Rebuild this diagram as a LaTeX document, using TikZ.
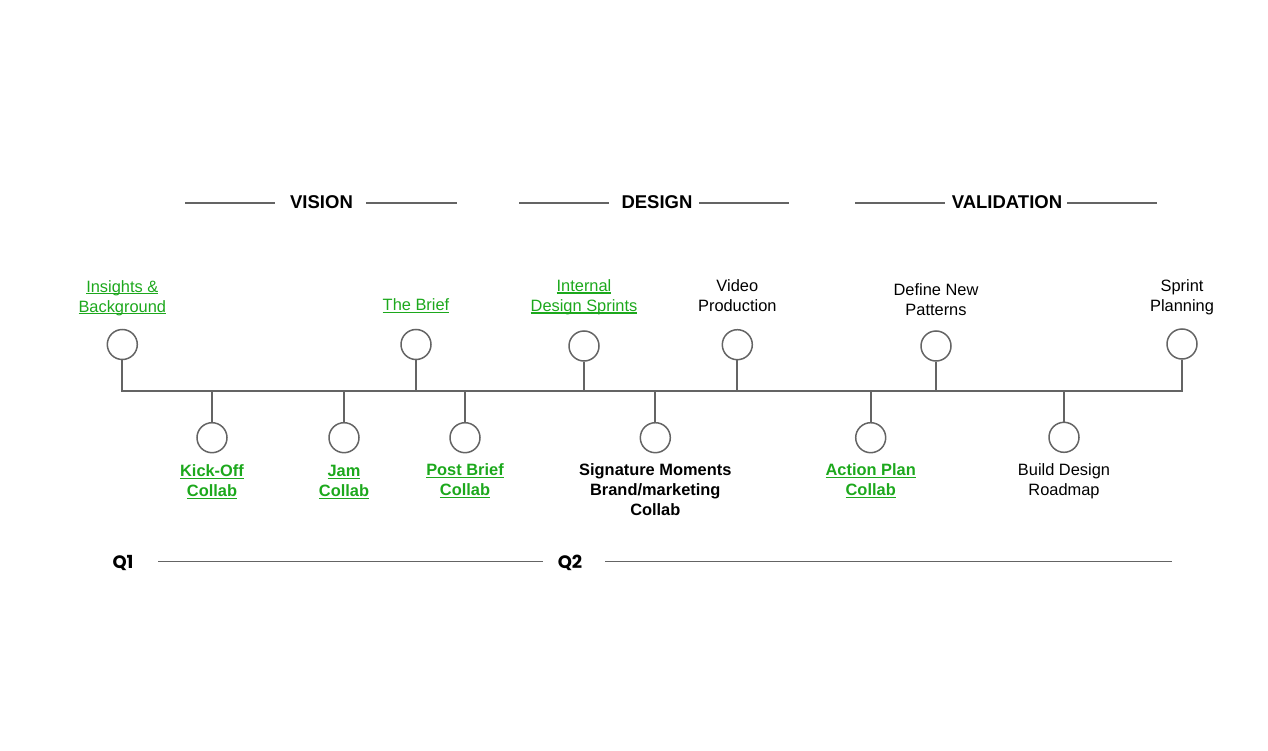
\documentclass[tikz,border=0pt]{standalone}
\usepackage{fontspec}
\setmainfont{Liberation Sans}
\newfontfamily\qfont{Poppins}
\usetikzlibrary{positioning}
\definecolor{linkgreen}{RGB}{28,168,28}
\definecolor{linegray}{RGB}{100,100,100}
\newcommand\ulin[1]{\setbox0\hbox{#1}\rlap{\vrule height -1.1pt depth 2.2pt width \wd0}\box0}
\newcommand\gline[1]{\strut\ulin{#1}}
\newcommand\pline[1]{\strut #1}
\begin{document}
\begin{tikzpicture}[x=1pt,y=-1pt,
  dot/.style={circle,draw=linegray,line width=1.5pt,minimum size=30pt,inner sep=0pt},
  stem/.style={draw=linegray,line width=1.7pt},
  tl/.style={draw=linegray,line width=1.7pt,line join=miter},
  hline/.style={draw=linegray,line width=1.5pt},
  lbl/.style={align=center,inner sep=0pt,font=\fontsize{16.4}{20}\selectfont},
  glbl/.style={lbl,text=linkgreen},
  gblbl/.style={lbl,text=linkgreen,font=\fontsize{16.4}{20}\selectfont\bfseries},
  blbl/.style={lbl,font=\fontsize{16.4}{20}\selectfont\bfseries},
  head/.style={inner sep=0pt,anchor=base,font=\fontsize{18.5}{22}\selectfont\bfseries},
  qlbl/.style={inner sep=0pt,anchor=base,font=\qfont\fontsize{18}{22}\selectfont\bfseries}
]
\useasboundingbox (0,0) rectangle (1268,751);

% header
\node[head] (hvis) at (321.5,209) {VISION};
\node[head] (hdes) at (657,209) {DESIGN};
\node[head] (hval) at (1007,209) {VALIDATION};
\coordinate (hv1) at (185,203); \coordinate (hv2) at (275,203);
\coordinate (hv3) at (366,203); \coordinate (hv4) at (457,203);
\coordinate (hd1) at (519,203); \coordinate (hd2) at (609,203);
\coordinate (hd3) at (699,203); \coordinate (hd4) at (789,203);
\coordinate (ha1) at (855,203); \coordinate (ha2) at (945,203);
\coordinate (ha3) at (1067,203); \coordinate (ha4) at (1157,203);
\draw[hline] (hv1) -- (hv2); \draw[hline] (hv3) -- (hv4);
\draw[hline] (hd1) -- (hd2); \draw[hline] (hd3) -- (hd4);
\draw[hline] (ha1) -- (ha2); \draw[hline] (ha3) -- (ha4);

% timeline
\coordinate (t0) at (122.3,391);
\coordinate (t1) at (1182,391);

% upper circles
\node[dot] (c1) at (122.3,344.5) {};
\node[dot] (c2) at (416,344.5) {};
\node[dot] (c3) at (584,346) {};
\node[dot] (c4) at (737.3,344.7) {};
\node[dot] (c5) at (936,346) {};
\node[dot] (c6) at (1182,344) {};
% lower circles
\node[dot] (d1) at (212,437.7) {};
\node[dot] (d2) at (344,437.7) {};
\node[dot] (d3) at (465,437.7) {};
\node[dot] (d4) at (655.3,437.7) {};
\node[dot] (d5) at (870.7,437.7) {};
\node[dot] (d6) at (1064,437.3) {};

\draw[tl] (c1.south) -- (c1 |- t0) -- (c6 |- t1) -- (c6.south);
\foreach \n in {c2,c3,c4,c5} \draw[stem] (\n.south) -- (\n |- t0);
\foreach \n in {d1,d2,d3,d4,d5,d6} \draw[stem] (\n.north) -- (\n |- t0);

% upper labels
\node[glbl,above=10.5pt of c1] (l1) {\gline{Insights \&}\\\gline{Background}};
\node[glbl,above=11.8pt of c2] (l2) {\gline{The Brief}};
\node[glbl,above=12.7pt of c3] (l3) {\gline{Internal}\\\gline{Design Sprints}};
\node[lbl,above=11pt of c4] (l4) {\pline{Video}\\\pline{Production}};
\node[lbl,above=9pt of c5] (l5) {\pline{Define New}\\\pline{Patterns}};
\node[lbl,above=10.3pt of c6] (l6) {\pline{Sprint}\\\pline{Planning}};

% lower labels
\node[gblbl,below=9.3pt of d1] (m1) {\gline{Kick-Off}\\\gline{Collab}};
\node[gblbl,below=9.3pt of d2] (m2) {\gline{Jam}\\\gline{Collab}};
\node[gblbl,below=8.3pt of d3] (m3) {\gline{Post Brief}\\\gline{Collab}};
\node[blbl,below=8.3pt of d4] (m4) {\pline{Signature Moments}\\\pline{Brand/marketing}\\\pline{Collab}};
\node[gblbl,below=8.3pt of d5] (m5) {\gline{Action Plan}\\\gline{Collab}};
\node[lbl,below=8.7pt of d6] (m6) {\pline{Build Design}\\\pline{Roadmap}};

% quarters
\node[qlbl] (q1) at (123,568.5) {Q1};
\node[qlbl] (q2) at (570,568.5) {Q2};
\coordinate (ql1) at (158.3,561.5); \coordinate (ql2) at (543.3,561.5);
\coordinate (ql3) at (605,561.5); \coordinate (ql4) at (1172,561.5);
\draw[hline] (ql1) -- (ql2);
\draw[hline] (ql3) -- (ql4);
\end{tikzpicture}
\end{document}
